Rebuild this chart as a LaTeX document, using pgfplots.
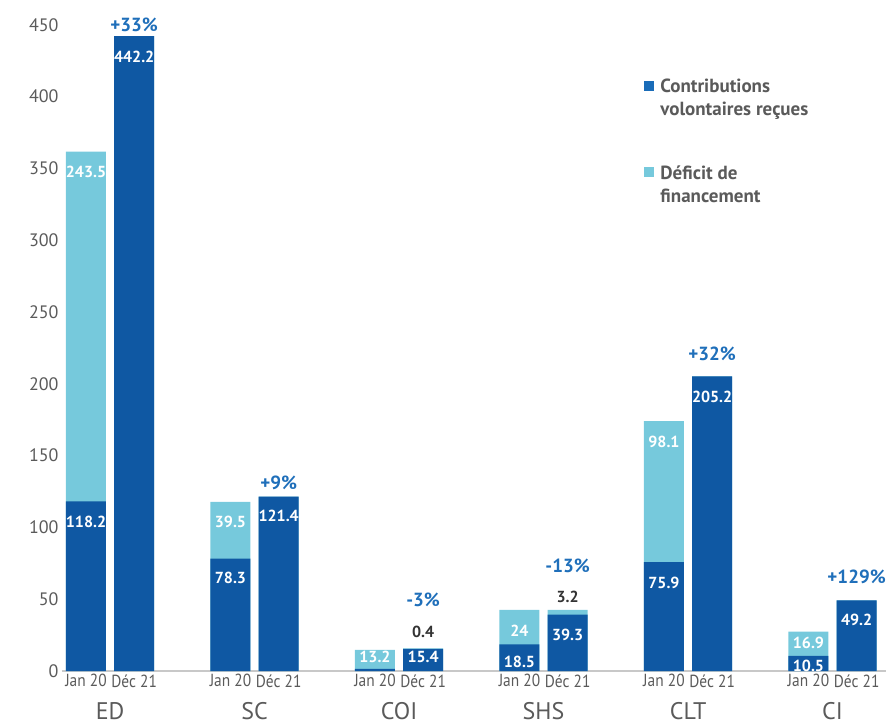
\documentclass[border=0pt]{standalone}
\usepackage{fontspec}
\setmainfont{PT Sans}
\usepackage{pgfplots}
\usepackage{pgfplotstable}
\pgfplotsset{compat=1.18}
\definecolor{darkb}{HTML}{0F58A3}
\definecolor{lightb}{HTML}{76C9DC}
\definecolor{legdark}{HTML}{1A6CB8}
\definecolor{pctblue}{HTML}{1F6FBA}
\definecolor{textgray}{HTML}{5A5A5A}
\definecolor{axisgray}{HTML}{C8C8C8}
\definecolor{lblgray}{HTML}{333333}
\newcommand\grp[1]{{\fontsize{24}{24}\selectfont #1}}
\newcommand\tk[1]{\scalebox{0.88}[1]{\fontsize{17.5}{17.5}\selectfont #1}}

\pgfplotstableread{
x c d
0 118.2 243.5
1 442.2 0
3 78.3 39.5
4 121.4 0
6 1.5 13.2
7 15.4 0.4
9 18.5 24
10 39.3 3.2
12 75.9 98.1
13 205.2 0
15 10.5 16.9
16 49.2 0
}\data

\pgfplotstableread{
x y lab
0 103.9 118.2
0 347.8 243.5
1 427.8 442.2
3 64.8 78.3
3 103.9 39.5
4 107.9 121.4
6 9.7 13.2
7 9.7 15.4
9 28.1 24
9 6.4 18.5
10 25.1 39.3
12 159.7 98.1
12 61.1 75.9
13 191.0 205.2
15 19.5 16.9
15 3.5 10.5
16 35.5 49.2
}\whitelabels

\pgfplotstableread{
x y lab
7 26.9 0.4
10 51.7 3.2
}\graylabels

\pgfplotstableread{
x y lab
1 449.9 +33
4 130.7 +9
7 49.4 -3
10 73.1 -13
13 220.8 +32
16 65.3 +129
}\pctlabels

\begin{document}
\begin{tikzpicture}
\path[use as bounding box] (0,0) rectangle (886pt,726pt);
\begin{axis}[
  at={(62pt,55pt)}, anchor=south west,
  scale only axis, width=824pt, height=671pt,
  xmin=-0.498, xmax=16.61, ymin=0, ymax=467.3,
  clip=false,
  axis lines*=left,
  x axis line style={-, draw=axisgray, line width=1.5pt},
  y axis line style={draw=none},
  major tick length=0pt,
  ytick={0,50,...,450},
  /pgf/number format/assume math mode=true,
  y tick label style={font=\fontsize{18}{18}\selectfont, text=textgray},
  xtick={0,1,3,4,6,7,9,10,12,13,15,16},
  xticklabels={\tk{Jan 20},\tk{Déc 21},\tk{Jan 20},\tk{Déc 21},\tk{Jan 20},\tk{Déc 21},\tk{Jan 20},\tk{Déc 21},\tk{Jan 20},\tk{Déc 21},\tk{Jan 20},\tk{Déc 21}},
  x tick label style={text=textgray},
  extra x ticks={0.5,3.5,6.5,9.5,12.5,15.5},
  extra x tick labels={\grp{ED},\grp{SC},\grp{COI},\grp{SHS},\grp{CLT},\grp{CI}},
  extra x tick style={tick label style={yshift=-28pt, text=textgray}},
  legend style={at={(0.7027,0.888)}, anchor=north west, draw=none, fill=none,
    font=\bfseries\fontsize{19}{23}\selectfont, text=textgray,
    nodes={align=left}, row sep=44pt},
  legend cell align=left,
]
\addplot[ybar, bar width=0.83, bar shift=0pt, fill=lightb, draw=none, forget plot]
  table[x=x, y expr=\thisrow{c}+\thisrow{d}] {\data};
\addplot[ybar, bar width=0.83, bar shift=0pt, fill=darkb, draw=none, forget plot]
  table[x=x, y=c] {\data};

\addplot[only marks, mark=*, mark size=0pt, mark options={draw=none, fill=none}, forget plot,
  nodes near coords, point meta=explicit symbolic,
  nodes near coords style={anchor=center, text=white, font=\bfseries\fontsize{16}{16}\selectfont}]
  table[x=x, y=y, meta=lab] {\whitelabels};
\addplot[only marks, mark=*, mark size=0pt, mark options={draw=none, fill=none}, forget plot,
  nodes near coords, point meta=explicit symbolic,
  nodes near coords style={anchor=center, text=lblgray, font=\bfseries\fontsize{16}{16}\selectfont}]
  table[x=x, y=y, meta=lab] {\graylabels};
\addplot[only marks, mark=*, mark size=0pt, mark options={draw=none, fill=none}, forget plot,
  nodes near coords={\pgfplotspointmeta\%}, point meta=explicit symbolic,
  nodes near coords style={anchor=center, text=pctblue, font=\bfseries\fontsize{19}{19}\selectfont}]
  table[x=x, y=y, meta=lab] {\pctlabels};

\addlegendimage{legend image code/.code={\fill[legdark] (0pt,8pt) rectangle (9pt,17pt); \path[draw=none, fill=none] (0pt,8pt) -- (14pt,8pt);}}
\addlegendentry{Contributions\\volontaires reçues}
\addlegendimage{legend image code/.code={\fill[lightb] (0pt,8pt) rectangle (9pt,17pt); \path[draw=none, fill=none] (0pt,8pt) -- (10pt,8pt);}}
\addlegendentry{Déficit de\\financement}
\end{axis}
\end{tikzpicture}
\end{document}
